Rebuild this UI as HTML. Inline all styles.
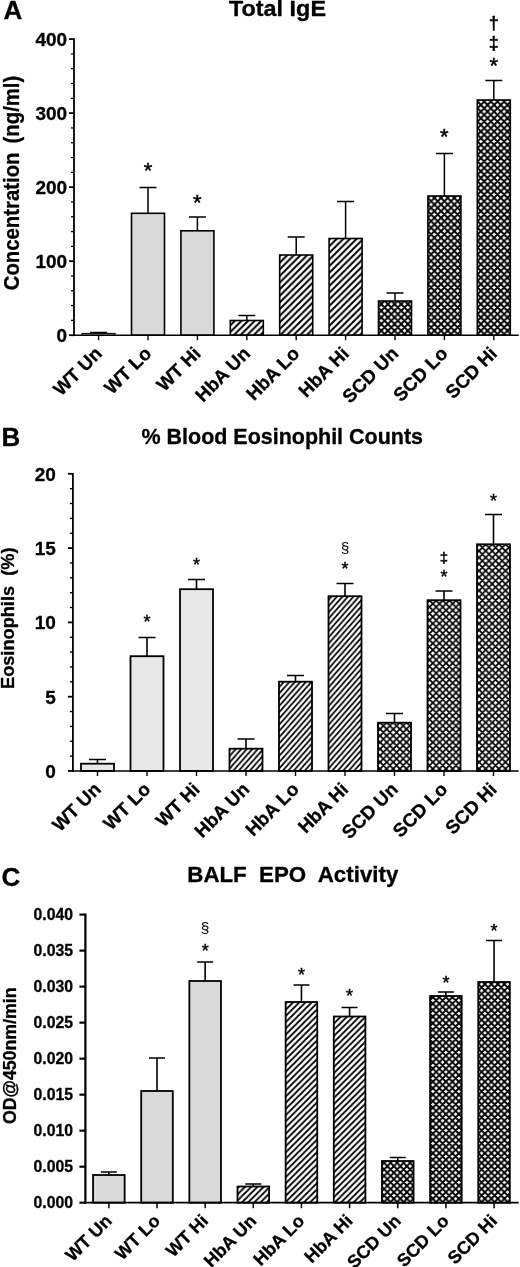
<!DOCTYPE html>
<html><head><meta charset="utf-8"><title>Figure</title>
<style>
html,body{margin:0;padding:0;background:#fff;}
svg{display:block;font-family:"Liberation Sans", sans-serif;fill:#000;}
text[font-weight=bold]{stroke:#000;stroke-width:0.3px;}
text.a{stroke:#000;stroke-width:0.45px;}
</style></head>
<body>
<svg width="520" height="1267" viewBox="0 0 520 1267">
<defs>
<pattern id="hatchA" patternUnits="userSpaceOnUse" width="6.63" height="6.63" patternTransform="translate(5.4,0)"><rect width="6.63" height="6.63" fill="#fff"/><path d="M-6.63,6.63 L6.63,-6.63 M-3.31,9.95 L9.95,-3.31 M0,13.26 L13.26,0" stroke="#000" stroke-width="2.0" fill="none"/></pattern>
<pattern id="crossA" patternUnits="userSpaceOnUse" width="6.64" height="6.64" patternTransform="translate(2.79,5.35)"><rect width="6.64" height="6.64" fill="#fff"/><path d="M-6.64,6.64 L6.64,-6.64 M-3.32,9.96 L9.96,-3.32 M0,13.28 L13.28,0 M-6.64,0 L6.64,13.28 M-3.32,-3.32 L9.96,9.96 M0,-6.64 L13.28,6.64" stroke="#000" stroke-width="1.9" fill="none"/></pattern>
<pattern id="hatchB" patternUnits="userSpaceOnUse" width="5.5" height="6.25" patternTransform="translate(2.46,1.7)"><rect width="5.5" height="6.25" fill="#fff"/><path d="M-5.5,6.25 L5.5,-6.25 M-2.75,9.38 L8.25,-3.12 M0,12.5 L11,0" stroke="#000" stroke-width="1.7" fill="none"/></pattern>
<pattern id="crossB" patternUnits="userSpaceOnUse" width="6.6" height="6.6" patternTransform="translate(3.85,3.15)"><rect width="6.6" height="6.6" fill="#fff"/><path d="M-6.6,6.6 L6.6,-6.6 M-3.3,9.9 L9.9,-3.3 M0,13.2 L13.2,0 M-6.6,0 L6.6,13.2 M-3.3,-3.3 L9.9,9.9 M0,-6.6 L13.2,6.6" stroke="#000" stroke-width="1.75" fill="none"/></pattern>
<pattern id="hatchC" patternUnits="userSpaceOnUse" width="6.2" height="6.2" patternTransform="translate(5.9,0)"><rect width="6.2" height="6.2" fill="#fff"/><path d="M-6.2,6.2 L6.2,-6.2 M-3.1,9.3 L9.3,-3.1 M0,12.4 L12.4,0" stroke="#000" stroke-width="1.8" fill="none"/></pattern>
<pattern id="crossC" patternUnits="userSpaceOnUse" width="6.5" height="6.5" patternTransform="translate(3.87,2.69)"><rect width="6.5" height="6.5" fill="#fff"/><path d="M-6.5,6.5 L6.5,-6.5 M-3.25,9.75 L9.75,-3.25 M0,13 L13,0 M-6.5,0 L6.5,13 M-3.25,-3.25 L9.75,9.75 M0,-6.5 L13,6.5" stroke="#000" stroke-width="1.85" fill="none"/></pattern>
</defs>
<rect width="520" height="1267" fill="#fff"/>
<path d="M98.6,333.4 V332.6 M90.1,332.6 H107.1" stroke="#000" stroke-width="1.5" fill="none"/>
<rect x="82.1" y="333.4" width="33" height="1.8" fill="#d9d9d9" stroke="#000" stroke-width="1"/>
<line x1="98.6" y1="335.2" x2="98.6" y2="340.2" stroke="#000" stroke-width="1.4"/>
<text transform="translate(103.1,354.7) rotate(-45)" text-anchor="end" font-size="18.8" font-weight="bold">WT Un</text>
<path d="M148,213.3 V187.5 M139.5,187.5 H156.5" stroke="#000" stroke-width="1.5" fill="none"/>
<rect x="131.5" y="213.3" width="33" height="121.9" fill="#d9d9d9" stroke="#000" stroke-width="1.6"/>
<line x1="148" y1="335.2" x2="148" y2="340.2" stroke="#000" stroke-width="1.4"/>
<text transform="translate(152.5,354.7) rotate(-45)" text-anchor="end" font-size="18.8" font-weight="bold">WT Lo</text>
<text x="148" y="177.8" text-anchor="middle" font-size="22" class="a">*</text>
<path d="M197.4,230.8 V217 M188.9,217 H205.9" stroke="#000" stroke-width="1.5" fill="none"/>
<rect x="180.9" y="230.8" width="33" height="104.4" fill="#d9d9d9" stroke="#000" stroke-width="1.6"/>
<line x1="197.4" y1="335.2" x2="197.4" y2="340.2" stroke="#000" stroke-width="1.4"/>
<text transform="translate(201.9,354.7) rotate(-45)" text-anchor="end" font-size="18.8" font-weight="bold">WT Hi</text>
<text x="197.4" y="210" text-anchor="middle" font-size="22" class="a">*</text>
<path d="M246.8,320.5 V315.5 M238.3,315.5 H255.3" stroke="#000" stroke-width="1.5" fill="none"/>
<rect x="230.3" y="320.5" width="33" height="14.7" fill="url(#hatchA)" stroke="#000" stroke-width="1.6"/>
<line x1="246.8" y1="335.2" x2="246.8" y2="340.2" stroke="#000" stroke-width="1.4"/>
<text transform="translate(251.3,354.7) rotate(-45)" text-anchor="end" font-size="18.8" font-weight="bold">HbA Un</text>
<path d="M296.2,255 V236.9 M287.7,236.9 H304.7" stroke="#000" stroke-width="1.5" fill="none"/>
<rect x="279.7" y="255" width="33" height="80.2" fill="url(#hatchA)" stroke="#000" stroke-width="1.6"/>
<line x1="296.2" y1="335.2" x2="296.2" y2="340.2" stroke="#000" stroke-width="1.4"/>
<text transform="translate(300.7,354.7) rotate(-45)" text-anchor="end" font-size="18.8" font-weight="bold">HbA Lo</text>
<path d="M345.6,238.5 V201.5 M337.1,201.5 H354.1" stroke="#000" stroke-width="1.5" fill="none"/>
<rect x="329.1" y="238.5" width="33" height="96.7" fill="url(#hatchA)" stroke="#000" stroke-width="1.6"/>
<line x1="345.6" y1="335.2" x2="345.6" y2="340.2" stroke="#000" stroke-width="1.4"/>
<text transform="translate(350.1,354.7) rotate(-45)" text-anchor="end" font-size="18.8" font-weight="bold">HbA Hi</text>
<path d="M395,301 V293 M386.5,293 H403.5" stroke="#000" stroke-width="1.5" fill="none"/>
<rect x="378.5" y="301" width="33" height="34.2" fill="url(#crossA)" stroke="#000" stroke-width="1.6"/>
<line x1="395" y1="335.2" x2="395" y2="340.2" stroke="#000" stroke-width="1.4"/>
<text transform="translate(399.5,354.7) rotate(-45)" text-anchor="end" font-size="18.8" font-weight="bold">SCD Un</text>
<path d="M444.4,196 V153.5 M435.9,153.5 H452.9" stroke="#000" stroke-width="1.5" fill="none"/>
<rect x="427.9" y="196" width="33" height="139.2" fill="url(#crossA)" stroke="#000" stroke-width="1.6"/>
<line x1="444.4" y1="335.2" x2="444.4" y2="340.2" stroke="#000" stroke-width="1.4"/>
<text transform="translate(448.9,354.7) rotate(-45)" text-anchor="end" font-size="18.8" font-weight="bold">SCD Lo</text>
<text x="444.4" y="144" text-anchor="middle" font-size="22" class="a">*</text>
<path d="M493.8,100 V80.5 M485.3,80.5 H502.3" stroke="#000" stroke-width="1.5" fill="none"/>
<rect x="477.3" y="100" width="33" height="235.2" fill="url(#crossA)" stroke="#000" stroke-width="1.6"/>
<line x1="493.8" y1="335.2" x2="493.8" y2="340.2" stroke="#000" stroke-width="1.4"/>
<text transform="translate(498.3,354.7) rotate(-45)" text-anchor="end" font-size="18.8" font-weight="bold">SCD Hi</text>
<text x="493.8" y="73.2" text-anchor="middle" font-size="22" class="a">*</text>
<text x="493.8" y="49" text-anchor="middle" font-size="18" font-weight="bold">‡</text>
<text x="493.8" y="29" text-anchor="middle" font-size="18" font-weight="bold">†</text>
<line x1="74" y1="38.2" x2="74" y2="336.1" stroke="#000" stroke-width="1.8"/>
<line x1="73.1" y1="335.2" x2="518.7" y2="335.2" stroke="#000" stroke-width="1.6"/>
<line x1="69" y1="335.2" x2="74" y2="335.2" stroke="#000" stroke-width="1.8"/>
<text x="67.2" y="342" text-anchor="end" font-size="19" font-weight="bold">0</text>
<line x1="71" y1="320.39" x2="74" y2="320.39" stroke="#000" stroke-width="1.3"/>
<line x1="71" y1="305.59" x2="74" y2="305.59" stroke="#000" stroke-width="1.3"/>
<line x1="71" y1="290.78" x2="74" y2="290.78" stroke="#000" stroke-width="1.3"/>
<line x1="71" y1="275.98" x2="74" y2="275.98" stroke="#000" stroke-width="1.3"/>
<line x1="69" y1="261.18" x2="74" y2="261.18" stroke="#000" stroke-width="1.8"/>
<text x="67.2" y="267.98" text-anchor="end" font-size="19" font-weight="bold">100</text>
<line x1="71" y1="246.37" x2="74" y2="246.37" stroke="#000" stroke-width="1.3"/>
<line x1="71" y1="231.57" x2="74" y2="231.57" stroke="#000" stroke-width="1.3"/>
<line x1="71" y1="216.76" x2="74" y2="216.76" stroke="#000" stroke-width="1.3"/>
<line x1="71" y1="201.96" x2="74" y2="201.96" stroke="#000" stroke-width="1.3"/>
<line x1="69" y1="187.15" x2="74" y2="187.15" stroke="#000" stroke-width="1.8"/>
<text x="67.2" y="193.95" text-anchor="end" font-size="19" font-weight="bold">200</text>
<line x1="71" y1="172.34" x2="74" y2="172.34" stroke="#000" stroke-width="1.3"/>
<line x1="71" y1="157.54" x2="74" y2="157.54" stroke="#000" stroke-width="1.3"/>
<line x1="71" y1="142.74" x2="74" y2="142.74" stroke="#000" stroke-width="1.3"/>
<line x1="71" y1="127.93" x2="74" y2="127.93" stroke="#000" stroke-width="1.3"/>
<line x1="69" y1="113.12" x2="74" y2="113.12" stroke="#000" stroke-width="1.8"/>
<text x="67.2" y="119.92" text-anchor="end" font-size="19" font-weight="bold">300</text>
<line x1="71" y1="98.32" x2="74" y2="98.32" stroke="#000" stroke-width="1.3"/>
<line x1="71" y1="83.52" x2="74" y2="83.52" stroke="#000" stroke-width="1.3"/>
<line x1="71" y1="68.71" x2="74" y2="68.71" stroke="#000" stroke-width="1.3"/>
<line x1="71" y1="53.91" x2="74" y2="53.91" stroke="#000" stroke-width="1.3"/>
<line x1="69" y1="39.1" x2="74" y2="39.1" stroke="#000" stroke-width="1.8"/>
<text x="67.2" y="45.9" text-anchor="end" font-size="19" font-weight="bold">400</text>
<text x="229" y="15.6" font-size="22" font-weight="bold" textLength="97" lengthAdjust="spacingAndGlyphs" xml:space="preserve">Total IgE</text>
<text x="3.5" y="18.8" font-size="26" font-weight="bold">A</text>
<text transform="translate(18.7,290.3) rotate(-90)" font-size="21.5" font-weight="bold" textLength="137.8" lengthAdjust="spacingAndGlyphs" xml:space="preserve">Concentration</text>
<text transform="translate(18.7,143.4) rotate(-90)" font-size="21.5" font-weight="bold" textLength="67.6" lengthAdjust="spacingAndGlyphs" xml:space="preserve">(ng/ml)</text>
<path d="M97.5,763.7 V759.5 M89,759.5 H106" stroke="#000" stroke-width="1.6" fill="none"/>
<rect x="81" y="763.7" width="33" height="7.3" fill="#e8e8e8" stroke="#000" stroke-width="1.8"/>
<line x1="97.5" y1="771" x2="97.5" y2="776" stroke="#000" stroke-width="1.4"/>
<text transform="translate(102,790.5) rotate(-45)" text-anchor="end" font-size="18.8" font-weight="bold">WT Un</text>
<path d="M147,656.2 V637.5 M138.5,637.5 H155.5" stroke="#000" stroke-width="1.6" fill="none"/>
<rect x="130.5" y="656.2" width="33" height="114.8" fill="#e8e8e8" stroke="#000" stroke-width="1.8"/>
<line x1="147" y1="771" x2="147" y2="776" stroke="#000" stroke-width="1.4"/>
<text transform="translate(151.5,790.5) rotate(-45)" text-anchor="end" font-size="18.8" font-weight="bold">WT Lo</text>
<text x="147" y="628" text-anchor="middle" font-size="18" class="a">*</text>
<path d="M196.5,589.2 V579.5 M188,579.5 H205" stroke="#000" stroke-width="1.6" fill="none"/>
<rect x="180" y="589.2" width="33" height="181.8" fill="#e8e8e8" stroke="#000" stroke-width="1.8"/>
<line x1="196.5" y1="771" x2="196.5" y2="776" stroke="#000" stroke-width="1.4"/>
<text transform="translate(201,790.5) rotate(-45)" text-anchor="end" font-size="18.8" font-weight="bold">WT Hi</text>
<text x="196.5" y="571" text-anchor="middle" font-size="18" class="a">*</text>
<path d="M246,748.7 V739 M237.5,739 H254.5" stroke="#000" stroke-width="1.6" fill="none"/>
<rect x="229.5" y="748.7" width="33" height="22.3" fill="url(#hatchB)" stroke="#000" stroke-width="1.8"/>
<line x1="246" y1="771" x2="246" y2="776" stroke="#000" stroke-width="1.4"/>
<text transform="translate(250.5,790.5) rotate(-45)" text-anchor="end" font-size="18.8" font-weight="bold">HbA Un</text>
<path d="M295.5,681.7 V675.5 M287,675.5 H304" stroke="#000" stroke-width="1.6" fill="none"/>
<rect x="279" y="681.7" width="33" height="89.3" fill="url(#hatchB)" stroke="#000" stroke-width="1.8"/>
<line x1="295.5" y1="771" x2="295.5" y2="776" stroke="#000" stroke-width="1.4"/>
<text transform="translate(300,790.5) rotate(-45)" text-anchor="end" font-size="18.8" font-weight="bold">HbA Lo</text>
<path d="M345,596.2 V583.5 M336.5,583.5 H353.5" stroke="#000" stroke-width="1.6" fill="none"/>
<rect x="328.5" y="596.2" width="33" height="174.8" fill="url(#hatchB)" stroke="#000" stroke-width="1.8"/>
<line x1="345" y1="771" x2="345" y2="776" stroke="#000" stroke-width="1.4"/>
<text transform="translate(349.5,790.5) rotate(-45)" text-anchor="end" font-size="18.8" font-weight="bold">HbA Hi</text>
<text x="345" y="575.2" text-anchor="middle" font-size="18" class="a">*</text>
<text x="345" y="552.6" text-anchor="middle" font-size="15.5">§</text>
<path d="M394.5,722.7 V713.5 M386,713.5 H403" stroke="#000" stroke-width="1.6" fill="none"/>
<rect x="378" y="722.7" width="33" height="48.3" fill="url(#crossB)" stroke="#000" stroke-width="1.8"/>
<line x1="394.5" y1="771" x2="394.5" y2="776" stroke="#000" stroke-width="1.4"/>
<text transform="translate(399,790.5) rotate(-45)" text-anchor="end" font-size="18.8" font-weight="bold">SCD Un</text>
<path d="M444,600.2 V591 M435.5,591 H452.5" stroke="#000" stroke-width="1.6" fill="none"/>
<rect x="427.5" y="600.2" width="33" height="170.8" fill="url(#crossB)" stroke="#000" stroke-width="1.8"/>
<line x1="444" y1="771" x2="444" y2="776" stroke="#000" stroke-width="1.4"/>
<text transform="translate(448.5,790.5) rotate(-45)" text-anchor="end" font-size="18.8" font-weight="bold">SCD Lo</text>
<text x="444" y="582.6" text-anchor="middle" font-size="18" class="a">*</text>
<text x="444" y="562.6" text-anchor="middle" font-size="15" font-weight="bold">‡</text>
<path d="M493.5,544.3 V514.5 M485,514.5 H502" stroke="#000" stroke-width="1.6" fill="none"/>
<rect x="477" y="544.3" width="33" height="226.7" fill="url(#crossB)" stroke="#000" stroke-width="1.8"/>
<line x1="493.5" y1="771" x2="493.5" y2="776" stroke="#000" stroke-width="1.4"/>
<text transform="translate(498,790.5) rotate(-45)" text-anchor="end" font-size="18.8" font-weight="bold">SCD Hi</text>
<text x="493.5" y="507" text-anchor="middle" font-size="18" class="a">*</text>
<line x1="72.9" y1="472.9" x2="72.9" y2="771.9" stroke="#000" stroke-width="1.8"/>
<line x1="72" y1="771" x2="518.7" y2="771" stroke="#000" stroke-width="1.5"/>
<line x1="67.9" y1="771" x2="72.9" y2="771" stroke="#000" stroke-width="1.8"/>
<text x="55.9" y="777.8" text-anchor="end" font-size="19" font-weight="bold">0</text>
<line x1="69.9" y1="756.14" x2="72.9" y2="756.14" stroke="#000" stroke-width="1.3"/>
<line x1="69.9" y1="741.28" x2="72.9" y2="741.28" stroke="#000" stroke-width="1.3"/>
<line x1="69.9" y1="726.42" x2="72.9" y2="726.42" stroke="#000" stroke-width="1.3"/>
<line x1="69.9" y1="711.56" x2="72.9" y2="711.56" stroke="#000" stroke-width="1.3"/>
<line x1="67.9" y1="696.7" x2="72.9" y2="696.7" stroke="#000" stroke-width="1.8"/>
<text x="55.9" y="703.5" text-anchor="end" font-size="19" font-weight="bold">5</text>
<line x1="69.9" y1="681.84" x2="72.9" y2="681.84" stroke="#000" stroke-width="1.3"/>
<line x1="69.9" y1="666.98" x2="72.9" y2="666.98" stroke="#000" stroke-width="1.3"/>
<line x1="69.9" y1="652.12" x2="72.9" y2="652.12" stroke="#000" stroke-width="1.3"/>
<line x1="69.9" y1="637.26" x2="72.9" y2="637.26" stroke="#000" stroke-width="1.3"/>
<line x1="67.9" y1="622.4" x2="72.9" y2="622.4" stroke="#000" stroke-width="1.8"/>
<text x="55.9" y="629.2" text-anchor="end" font-size="19" font-weight="bold">10</text>
<line x1="69.9" y1="607.54" x2="72.9" y2="607.54" stroke="#000" stroke-width="1.3"/>
<line x1="69.9" y1="592.68" x2="72.9" y2="592.68" stroke="#000" stroke-width="1.3"/>
<line x1="69.9" y1="577.82" x2="72.9" y2="577.82" stroke="#000" stroke-width="1.3"/>
<line x1="69.9" y1="562.96" x2="72.9" y2="562.96" stroke="#000" stroke-width="1.3"/>
<line x1="67.9" y1="548.1" x2="72.9" y2="548.1" stroke="#000" stroke-width="1.8"/>
<text x="55.9" y="554.9" text-anchor="end" font-size="19" font-weight="bold">15</text>
<line x1="69.9" y1="533.24" x2="72.9" y2="533.24" stroke="#000" stroke-width="1.3"/>
<line x1="69.9" y1="518.38" x2="72.9" y2="518.38" stroke="#000" stroke-width="1.3"/>
<line x1="69.9" y1="503.52" x2="72.9" y2="503.52" stroke="#000" stroke-width="1.3"/>
<line x1="69.9" y1="488.66" x2="72.9" y2="488.66" stroke="#000" stroke-width="1.3"/>
<line x1="67.9" y1="473.8" x2="72.9" y2="473.8" stroke="#000" stroke-width="1.8"/>
<text x="55.9" y="480.6" text-anchor="end" font-size="19" font-weight="bold">20</text>
<text x="141.5" y="444" font-size="22" font-weight="bold" textLength="281.5" lengthAdjust="spacingAndGlyphs" xml:space="preserve">% Blood Eosinophil Counts</text>
<text x="1.5" y="446" font-size="26" font-weight="bold">B</text>
<text transform="translate(14.2,689) rotate(-90)" font-size="18" font-weight="bold" textLength="141.5" lengthAdjust="spacingAndGlyphs" xml:space="preserve">Eosinophils  (%)</text>
<path d="M108.85,1175 V1172 M100.85,1172 H116.85" stroke="#000" stroke-width="1.6" fill="none"/>
<rect x="93.05" y="1175" width="31.6" height="27.7" fill="#d9d9d9" stroke="#000" stroke-width="1.8"/>
<line x1="108.85" y1="1202.7" x2="108.85" y2="1208.2" stroke="#000" stroke-width="1.5"/>
<text transform="translate(113.05,1222) rotate(-45)" text-anchor="end" font-size="18" font-weight="bold">WT Un</text>
<path d="M157,1091 V1058 M149,1058 H165" stroke="#000" stroke-width="1.6" fill="none"/>
<rect x="141.2" y="1091" width="31.6" height="111.7" fill="#d9d9d9" stroke="#000" stroke-width="1.8"/>
<line x1="157" y1="1202.7" x2="157" y2="1208.2" stroke="#000" stroke-width="1.5"/>
<text transform="translate(161.2,1222) rotate(-45)" text-anchor="end" font-size="18" font-weight="bold">WT Lo</text>
<path d="M205.15,981 V962 M197.15,962 H213.15" stroke="#000" stroke-width="1.6" fill="none"/>
<rect x="189.35" y="981" width="31.6" height="221.7" fill="#d9d9d9" stroke="#000" stroke-width="1.8"/>
<line x1="205.15" y1="1202.7" x2="205.15" y2="1208.2" stroke="#000" stroke-width="1.5"/>
<text transform="translate(209.35,1222) rotate(-45)" text-anchor="end" font-size="18" font-weight="bold">WT Hi</text>
<text x="205.15" y="957.1" text-anchor="middle" font-size="18" class="a">*</text>
<text x="205.15" y="933.3" text-anchor="middle" font-size="15.5">§</text>
<path d="M253.3,1186.5 V1184 M245.3,1184 H261.3" stroke="#000" stroke-width="1.6" fill="none"/>
<rect x="237.5" y="1186.5" width="31.6" height="16.2" fill="url(#hatchC)" stroke="#000" stroke-width="1.8"/>
<line x1="253.3" y1="1202.7" x2="253.3" y2="1208.2" stroke="#000" stroke-width="1.5"/>
<text transform="translate(257.5,1222) rotate(-45)" text-anchor="end" font-size="18" font-weight="bold">HbA Un</text>
<path d="M301.45,1002 V985 M293.45,985 H309.45" stroke="#000" stroke-width="1.6" fill="none"/>
<rect x="285.65" y="1002" width="31.6" height="200.7" fill="url(#hatchC)" stroke="#000" stroke-width="1.8"/>
<line x1="301.45" y1="1202.7" x2="301.45" y2="1208.2" stroke="#000" stroke-width="1.5"/>
<text transform="translate(305.65,1222) rotate(-45)" text-anchor="end" font-size="18" font-weight="bold">HbA Lo</text>
<text x="301.45" y="981" text-anchor="middle" font-size="18" class="a">*</text>
<path d="M349.6,1016.5 V1007.5 M341.6,1007.5 H357.6" stroke="#000" stroke-width="1.6" fill="none"/>
<rect x="333.8" y="1016.5" width="31.6" height="186.2" fill="url(#hatchC)" stroke="#000" stroke-width="1.8"/>
<line x1="349.6" y1="1202.7" x2="349.6" y2="1208.2" stroke="#000" stroke-width="1.5"/>
<text transform="translate(353.8,1222) rotate(-45)" text-anchor="end" font-size="18" font-weight="bold">HbA Hi</text>
<text x="349.6" y="1002" text-anchor="middle" font-size="18" class="a">*</text>
<path d="M397.75,1161 V1157.5 M389.75,1157.5 H405.75" stroke="#000" stroke-width="1.6" fill="none"/>
<rect x="381.95" y="1161" width="31.6" height="41.7" fill="url(#crossC)" stroke="#000" stroke-width="1.8"/>
<line x1="397.75" y1="1202.7" x2="397.75" y2="1208.2" stroke="#000" stroke-width="1.5"/>
<text transform="translate(401.95,1222) rotate(-45)" text-anchor="end" font-size="18" font-weight="bold">SCD Un</text>
<path d="M445.9,996 V992 M437.9,992 H453.9" stroke="#000" stroke-width="1.6" fill="none"/>
<rect x="430.1" y="996" width="31.6" height="206.7" fill="url(#crossC)" stroke="#000" stroke-width="1.8"/>
<line x1="445.9" y1="1202.7" x2="445.9" y2="1208.2" stroke="#000" stroke-width="1.5"/>
<text transform="translate(450.1,1222) rotate(-45)" text-anchor="end" font-size="18" font-weight="bold">SCD Lo</text>
<text x="445.9" y="988.7" text-anchor="middle" font-size="18" class="a">*</text>
<path d="M494.05,982 V940.5 M486.05,940.5 H502.05" stroke="#000" stroke-width="1.6" fill="none"/>
<rect x="478.25" y="982" width="31.6" height="220.7" fill="url(#crossC)" stroke="#000" stroke-width="1.8"/>
<line x1="494.05" y1="1202.7" x2="494.05" y2="1208.2" stroke="#000" stroke-width="1.5"/>
<text transform="translate(498.25,1222) rotate(-45)" text-anchor="end" font-size="18" font-weight="bold">SCD Hi</text>
<text x="494.05" y="937" text-anchor="middle" font-size="18" class="a">*</text>
<line x1="85.4" y1="913.5" x2="85.4" y2="1203.8" stroke="#000" stroke-width="2.2"/>
<line x1="84.3" y1="1202.7" x2="518.7" y2="1202.7" stroke="#000" stroke-width="1.8"/>
<line x1="79.4" y1="1202.7" x2="85.4" y2="1202.7" stroke="#000" stroke-width="2.2"/>
<text x="73" y="1208.4" text-anchor="end" font-size="15.8" font-weight="bold">0.000</text>
<line x1="79.4" y1="1166.69" x2="85.4" y2="1166.69" stroke="#000" stroke-width="2.2"/>
<text x="73" y="1172.39" text-anchor="end" font-size="15.8" font-weight="bold">0.005</text>
<line x1="79.4" y1="1130.67" x2="85.4" y2="1130.67" stroke="#000" stroke-width="2.2"/>
<text x="73" y="1136.38" text-anchor="end" font-size="15.8" font-weight="bold">0.010</text>
<line x1="79.4" y1="1094.66" x2="85.4" y2="1094.66" stroke="#000" stroke-width="2.2"/>
<text x="73" y="1100.36" text-anchor="end" font-size="15.8" font-weight="bold">0.015</text>
<line x1="79.4" y1="1058.65" x2="85.4" y2="1058.65" stroke="#000" stroke-width="2.2"/>
<text x="73" y="1064.35" text-anchor="end" font-size="15.8" font-weight="bold">0.020</text>
<line x1="79.4" y1="1022.64" x2="85.4" y2="1022.64" stroke="#000" stroke-width="2.2"/>
<text x="73" y="1028.34" text-anchor="end" font-size="15.8" font-weight="bold">0.025</text>
<line x1="79.4" y1="986.62" x2="85.4" y2="986.62" stroke="#000" stroke-width="2.2"/>
<text x="73" y="992.33" text-anchor="end" font-size="15.8" font-weight="bold">0.030</text>
<line x1="79.4" y1="950.61" x2="85.4" y2="950.61" stroke="#000" stroke-width="2.2"/>
<text x="73" y="956.31" text-anchor="end" font-size="15.8" font-weight="bold">0.035</text>
<line x1="79.4" y1="914.6" x2="85.4" y2="914.6" stroke="#000" stroke-width="2.2"/>
<text x="73" y="920.3" text-anchor="end" font-size="15.8" font-weight="bold">0.040</text>
<text x="187.3" y="882" font-size="22" font-weight="bold" textLength="211" lengthAdjust="spacingAndGlyphs" xml:space="preserve">BALF  EPO  Activity</text>
<text x="1.5" y="886" font-size="26" font-weight="bold">C</text>
<text transform="translate(15.5,1124) rotate(-90)" font-size="18" font-weight="bold" textLength="136.5" lengthAdjust="spacingAndGlyphs" xml:space="preserve">OD@450nm/min</text>
</svg>
</body></html>
